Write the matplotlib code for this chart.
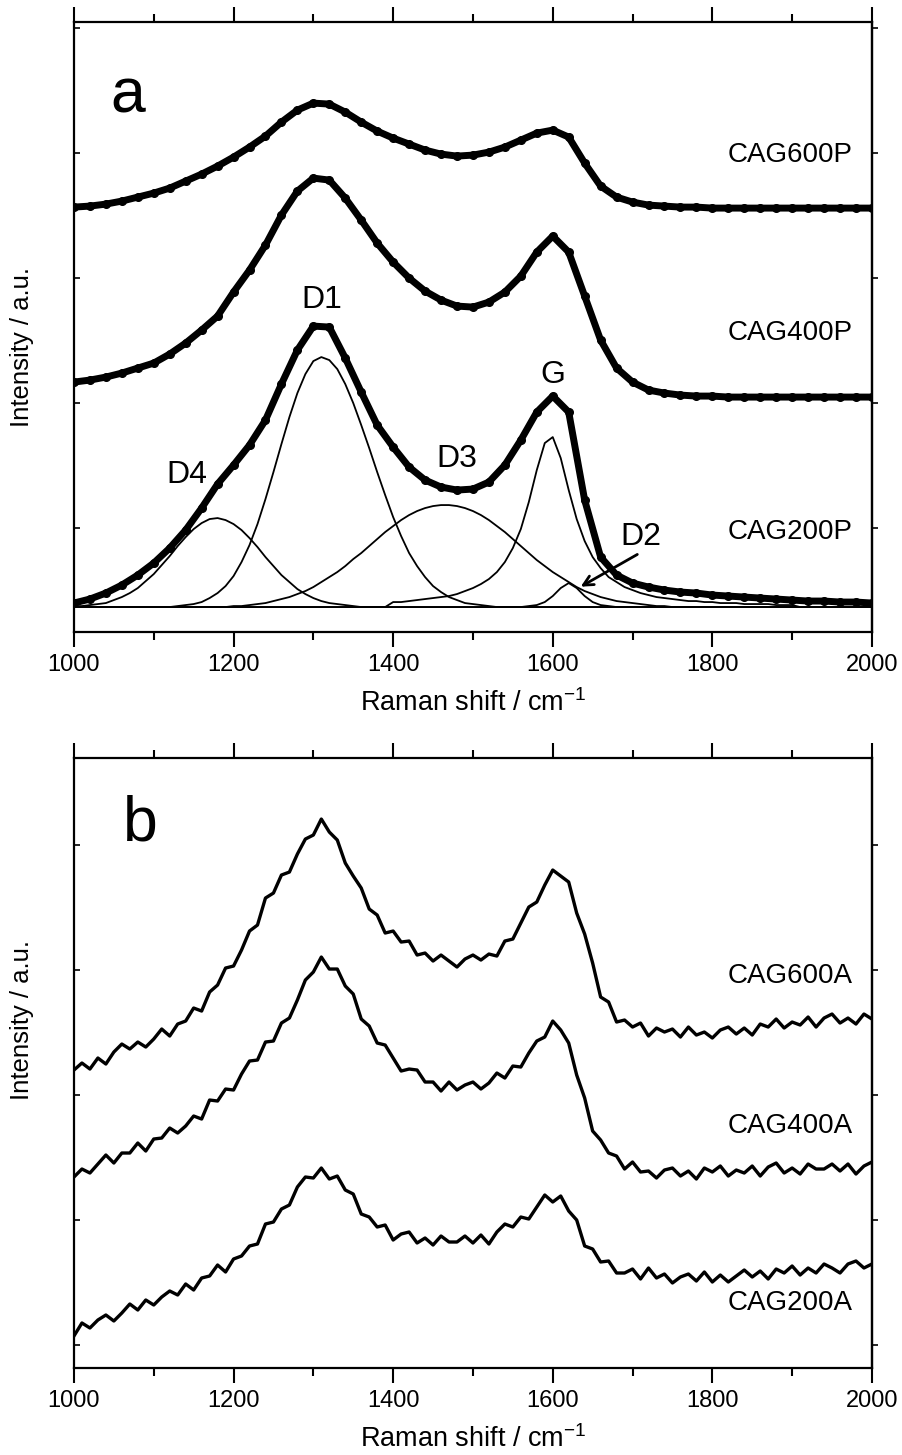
import numpy as np
import matplotlib
matplotlib.use("Agg")
import matplotlib.pyplot as plt
from matplotlib.ticker import MultipleLocator

plt.rcParams['font.family'] = ['Liberation Sans', 'DejaVu Sans']
plt.rcParams['mathtext.default'] = 'regular'

# Raman shift grid (cm-1)
shift10 = np.arange(1000, 2001, 10)
shift20 = np.arange(1000, 2001, 20)

# ---- panel a : powder samples (dots), 20 cm-1 step ----
cag600p = [446, 447, 449, 452, 456, 460, 465, 472, 479, 487, 496, 506, 517, 531, 543, 550,
           549, 541, 531, 522, 515, 509, 503, 499, 497, 498, 501, 506, 513, 520, 523, 516,
           490, 467, 456, 451, 448, 447, 446, 446, 445, 445, 445, 445, 445, 445, 445, 445,
           445, 445, 445]
cag400p = [271, 273, 276, 280, 285, 290, 299, 310, 323, 337, 361, 383, 408, 438, 462, 475,
           473, 455, 433, 410, 391, 375, 362, 353, 347, 346, 351, 361, 377, 401, 417, 401,
           357, 313, 285, 271, 263, 260, 258, 257, 257, 256, 256, 256, 256, 256, 256, 256,
           256, 256, 256]
cag200p = [50, 54, 60, 68, 78, 90, 105, 123, 145, 169, 188, 208, 233, 269, 303, 327,
           326, 295, 261, 228, 206, 186, 173, 166, 163, 164, 171, 188, 213, 241, 257, 241,
           153, 96, 78, 70, 66, 63, 61, 60, 58, 57, 56, 55, 54, 53, 52, 52,
           51, 51, 50]

# fitted bands of CAG200P (height above baseline), 10 cm-1 step
fit_baseline = 46
d4_start, d4 = 1000, [1, 1, 2, 3, 4, 7, 10, 14, 19, 26, 33, 42, 51, 61, 70, 78, 84, 88, 89,
                      87, 83, 77, 69, 60, 50, 41, 32, 25, 18, 13, 9, 6, 4, 3, 2, 1, 0]
d1_start, d1 = 1130, [1, 2, 3, 5, 9, 14, 21, 31, 45, 62, 83, 108, 135, 163, 190, 214, 233,
                      246, 250, 247, 238, 223, 204, 182, 159, 135, 112, 90, 71, 54, 41,
                      30, 21, 15, 10, 7, 4, 3, 2, 1]
d3_start, d3 = 1200, [1, 1, 2, 3, 4, 6, 8, 10, 13, 16, 20, 25, 30, 35, 41, 48, 54, 61, 68,
                      75, 81, 87, 92, 96, 99, 101, 102, 102, 101, 99, 96, 92, 87, 81, 75,
                      68, 61, 54, 47, 41, 35, 30, 25, 20, 16, 13, 10, 8, 6, 5, 4, 3, 2, 1, 1]
g_start, g = 1400, [5, 5, 6, 7, 8, 9, 10, 11, 13, 16, 19, 23, 28, 35, 45, 59, 78, 105, 137,
                    164, 170, 149, 117, 88, 66, 50, 39, 30, 25, 20, 17, 14, 12, 10, 9, 8,
                    7, 6, 6, 5, 5, 4, 4, 4, 3, 3, 3, 3, 2, 2, 2]
d2_start, d2 = 1570, [1, 2, 5, 11, 19, 24, 19, 11, 5, 2, 1]

# ---- panel b : aerogel samples (lines), 10 cm-1 step ----
cag600a = [400, 407, 401, 412, 406, 418, 426, 421, 428, 423, 431, 441, 434, 446, 449, 462,
           459, 478, 485, 502, 504, 520, 539, 545, 572, 577, 595, 598, 616, 631, 635, 651,
           638, 630, 607, 594, 582, 561, 555, 537, 539, 528, 529, 515, 517, 509, 515, 509,
           503, 511, 515, 510, 516, 514, 529, 531, 547, 563, 568, 585, 600, 594, 588, 557,
           536, 507, 473, 468, 448, 450, 443, 447, 434, 442, 438, 441, 433, 443, 435, 438,
           432, 440, 443, 436, 442, 435, 446, 443, 451, 442, 448, 445, 453, 443, 452, 456,
           447, 452, 446, 456, 451]
cag400a = [293, 301, 297, 306, 315, 307, 317, 317, 327, 319, 331, 332, 342, 337, 344, 354,
           351, 370, 369, 381, 380, 396, 409, 410, 428, 429, 447, 452, 470, 490, 498, 513,
           501, 501, 484, 476, 451, 444, 427, 425, 412, 399, 401, 400, 388, 388, 379, 388,
           380, 385, 388, 381, 387, 397, 392, 404, 403, 417, 429, 433, 449, 440, 427, 395,
           372, 339, 330, 317, 314, 301, 308, 298, 299, 292, 300, 302, 294, 299, 291, 302,
           298, 304, 294, 300, 297, 304, 294, 303, 307, 297, 302, 296, 306, 301, 301, 306,
           299, 306, 296, 304, 308]
cag200a = [134, 147, 142, 150, 155, 149, 157, 166, 160, 170, 165, 173, 179, 175, 186, 180,
           192, 194, 205, 198, 211, 214, 224, 226, 246, 248, 261, 265, 283, 293, 292, 302,
           291, 294, 280, 276, 256, 253, 243, 245, 230, 236, 238, 227, 232, 225, 234, 228,
           228, 234, 227, 235, 226, 238, 246, 243, 253, 251, 263, 275, 268, 274, 259, 250,
           224, 221, 208, 209, 197, 197, 201, 191, 202, 192, 196, 187, 193, 196, 189, 198,
           188, 195, 188, 194, 200, 193, 199, 191, 201, 197, 204, 195, 202, 197, 206, 202,
           197, 206, 209, 202, 206]

labels_a = ['CAG600P', 'CAG400P', 'CAG200P']
label_a_y = [491, 313, 114]
labels_b = ['CAG600A', 'CAG400A', 'CAG200A']
label_b_y = [487, 337, 160]

fig = plt.figure(figsize=(9.03, 14.55), dpi=100)
ax_a = fig.add_axes([0.0819, 0.5656, 0.8837, 0.4192])
ax_b = fig.add_axes([0.0819, 0.0598, 0.8837, 0.4192])


def style_axis(ax, ylim):
    ax.set_xlim(1000, 2000)
    ax.set_ylim(*ylim)
    ax.xaxis.set_major_locator(MultipleLocator(200))
    ax.xaxis.set_minor_locator(MultipleLocator(100))
    ax.set_yticks([125, 250, 375, 500, 625])
    ax.set_yticklabels([])
    for sp in ax.spines.values():
        sp.set_linewidth(1.6)
    ax.tick_params(axis='x', which='major', direction='out', length=11, width=1.5,
                   top=True, labeltop=False, labelsize=17, pad=5)
    ax.tick_params(axis='x', which='minor', direction='out', length=5.5, width=1.5, top=True)
    ax.tick_params(axis='y', which='major', direction='in', length=4, width=1.2, left=True)
    sec = ax.secondary_yaxis('right')
    sec.set_yticks([125, 250, 375, 500, 625])
    sec.set_yticklabels([])
    sec.tick_params(direction='out', length=4, width=1.2)
    sec.spines['right'].set_linewidth(1.6)
    ax.set_xlabel('Raman shift / cm$^{-1}$', fontsize=19.5)
    ax.xaxis.set_label_coords(0.5, -0.094)
    ax.set_ylabel('Intensity / a.u.', fontsize=18.5)


# panel a
for spec in [cag600p, cag400p, cag200p]:
    ax_a.plot(shift20, spec, '-', color='black', lw=5.0, solid_capstyle='round',
              solid_joinstyle='round')
    ax_a.plot(shift20, spec, 'o', color='black', ms=5.5)

for start, band in [(d4_start, d4), (d1_start, d1), (d3_start, d3), (g_start, g), (d2_start, d2)]:
    full = np.full(shift10.size, float(fit_baseline))
    i0 = int((start - 1000) / 10)
    full[i0:i0 + len(band)] += band
    ax_a.plot(shift10, full, color='black', lw=1.3)

for name, yv in zip(labels_a, label_a_y):
    ax_a.text(1976, yv, name, fontsize=20, ha='right', va='baseline')

ax_a.text(1068, 541, 'a', fontsize=45, ha='center', va='baseline')
ax_a.text(1311, 345, 'D1', fontsize=23, ha='center', va='baseline')
ax_a.text(1600, 270, 'G', fontsize=23, ha='center', va='baseline')
ax_a.text(1480, 186, 'D3', fontsize=23, ha='center', va='baseline')
ax_a.text(1142, 170, 'D4', fontsize=23, ha='center', va='baseline')
ax_a.text(1710, 108, 'D2', fontsize=23, ha='center', va='baseline')
ax_a.annotate('', xy=(1632, 65), xytext=(1709, 100),
              arrowprops=dict(arrowstyle='->,head_length=0.7,head_width=0.35',
                              color='black', lw=2.0))

style_axis(ax_a, (21, 631))
ax_a.yaxis.set_label_coords(-0.05, 0.467)

# panel b
for spec in [cag600a, cag400a, cag200a]:
    ax_b.plot(shift10, spec, '-', color='black', lw=2.4)

for name, yv in zip(labels_b, label_b_y):
    ax_b.text(1976, yv, name, fontsize=20, ha='right', va='baseline')

ax_b.text(1083, 630, 'b', fontsize=45, ha='center', va='baseline')

style_axis(ax_b, (102, 712))
ax_b.yaxis.set_label_coords(-0.05, 0.57)

fig.savefig('out.png', dpi=100)
